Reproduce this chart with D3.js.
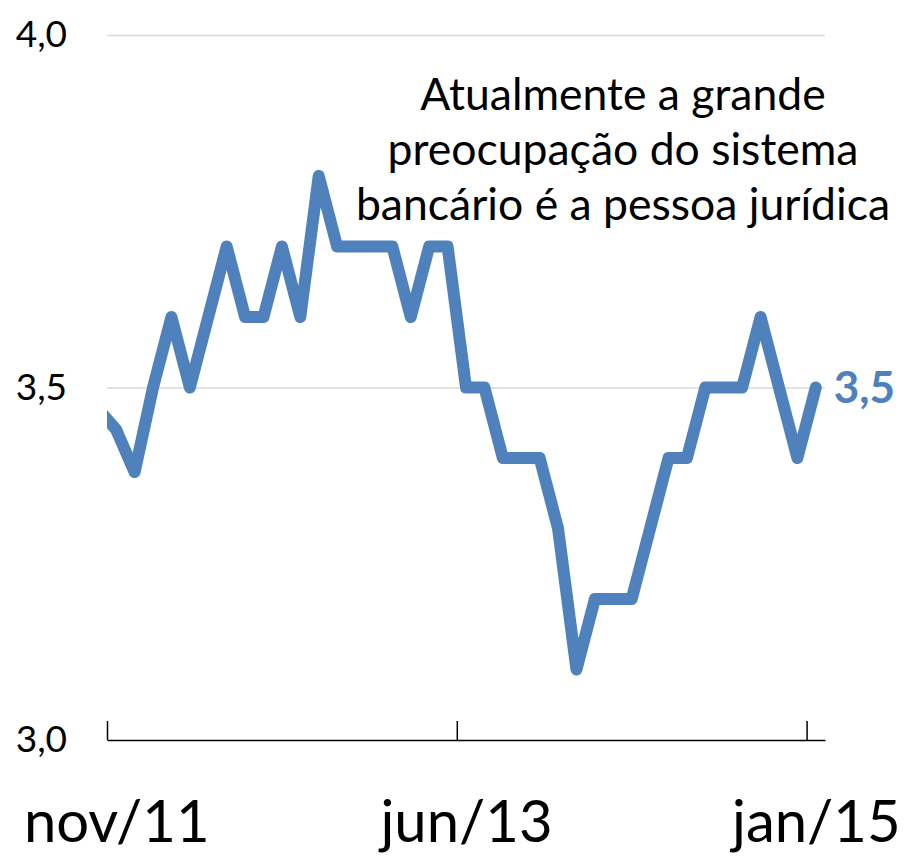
<!DOCTYPE html>
<html>
<head>
<meta charset="utf-8">
<script src="https://cdn.jsdelivr.net/npm/d3@7"></script>
<style>
  html, body { margin: 0; padding: 0; background: #fff; }
  text { font-family: Lato, "Open Sans", sans-serif; fill: #000; }
</style>
</head>
<body>
<div id="chart"></div>
<script>
// months shown on the chart (nov/11 .. jan/15)
const months = [
  "nov/11", "dez/11",
  "jan/12", "fev/12", "mar/12", "abr/12", "mai/12", "jun/12",
  "jul/12", "ago/12", "set/12", "out/12", "nov/12", "dez/12",
  "jan/13", "fev/13", "mar/13", "abr/13", "mai/13", "jun/13",
  "jul/13", "ago/13", "set/13", "out/13", "nov/13", "dez/13",
  "jan/14", "fev/14", "mar/14", "abr/14", "mai/14", "jun/14",
  "jul/14", "ago/14", "set/14", "out/14", "nov/14", "dez/14",
  "jan/15"
];

// indicator values, one per month
const values = [
  3.44, 3.38,
  3.5, 3.6, 3.5, 3.6, 3.7, 3.6,
  3.6, 3.7, 3.6, 3.8, 3.7, 3.7,
  3.7, 3.7, 3.6, 3.7, 3.7, 3.5,
  3.5, 3.4, 3.4, 3.4, 3.3, 3.1,
  3.2, 3.2, 3.2, 3.3, 3.4, 3.4,
  3.5, 3.5, 3.5, 3.6, 3.5, 3.4,
  3.5
];

// the month before nov/11 (only a sliver of it is visible, clipped at the axis)
const priorMonth = ["out/11"];
const priorValue = [3.47];

// axis labels
const xTickLabels = ["nov/11", "jun/13", "jan/15"];
const yTicks = [3.0, 3.5, 4.0];
const yGrid = [3.5, 4.0];

const note = [
  "Atualmente a grande",
  "preocupação do sistema",
  "bancário é a pessoa jurídica"
];

const MARGIN = { TOP: 35, BOTTOM: 116, LEFT: 107, RIGHT: 83 };
const WIDTH = 908 - MARGIN.LEFT - MARGIN.RIGHT;
const HEIGHT = 856 - MARGIN.TOP - MARGIN.BOTTOM;
const BLUE = "#4f81bd";

const ptBR = d3.formatLocale({ decimal: ",", thousands: ".", grouping: [3], currency: ["R$", ""] });
const fmt = ptBR.format(".1f");

const svg = d3.select("#chart")
  .append("svg")
  .attr("width", 908)
  .attr("height", 856)
  .append("g")
  .attr("transform", `translate(${MARGIN.LEFT},${MARGIN.TOP})`);

// month index scale, each month sits in the middle of its slot
const x = d3.scaleLinear()
  .domain([-0.5, months.length - 0.5])
  .range([0, WIDTH]);

const y = d3.scaleLinear()
  .domain([3, 4])
  .range([HEIGHT, 0]);

// gridlines
svg.append("g")
  .call(d3.axisLeft(y).tickValues(yGrid).tickSize(-WIDTH).tickFormat(""))
  .call(g => g.select(".domain").remove())
  .call(g => g.selectAll("line").attr("stroke", "#d9d9d9").attr("stroke-width", 1.5));

// y labels
svg.append("g")
  .call(d3.axisLeft(y).tickValues(yTicks).tickSize(0).tickPadding(40).tickFormat(fmt))
  .call(g => g.select(".domain").remove())
  .call(g => g.selectAll("text")
    .attr("font-size", 37)
    .attr("font-family", "Lato, sans-serif")
    .attr("fill", "#000"));

// x axis line with tick marks between months
const tickIdx = xTickLabels.map(l => months.indexOf(l));
svg.append("g")
  .attr("transform", `translate(0,${HEIGHT})`)
  .call(d3.axisBottom(x).tickValues(tickIdx.map(i => i - 0.5)).tickSize(-19).tickSizeOuter(0).tickFormat(""))
  .call(g => g.selectAll("path, line").attr("stroke", "#000").attr("stroke-width", 1.5));

// x labels centered on their month
svg.append("g")
  .attr("transform", `translate(0,${HEIGHT})`)
  .call(d3.axisBottom(x).tickValues(tickIdx).tickSize(0).tickPadding(61).tickFormat(i => months[i]))
  .call(g => g.select(".domain").remove())
  .call(g => g.selectAll("text")
    .attr("font-size", 58)
    .attr("font-family", "Lato, sans-serif")
    .attr("fill", "#000"));

// line, clipped to the plot area
svg.append("clipPath")
  .attr("id", "plot-clip")
  .append("rect")
  .attr("x", 0)
  .attr("y", -MARGIN.TOP)
  .attr("width", WIDTH + MARGIN.RIGHT)
  .attr("height", 856);

const series = priorValue.map((v, i) => ({ i: i - priorValue.length, v }))
  .concat(values.map((v, i) => ({ i, v })));

const line = d3.line()
  .x(d => x(d.i))
  .y(d => y(d.v));

svg.append("path")
  .datum(series)
  .attr("clip-path", "url(#plot-clip)")
  .attr("d", line)
  .attr("fill", "none")
  .attr("stroke", BLUE)
  .attr("stroke-width", 12)
  .attr("stroke-linejoin", "round")
  .attr("stroke-linecap", "round");

// last value label
const last = values.length - 1;
svg.append("text")
  .attr("x", x(last) + 18)
  .attr("y", y(values[last]))
  .attr("dy", "0.35em")
  .attr("font-size", 44)
  .attr("font-weight", "bold")
  .style("fill", BLUE)
  .text(fmt(values[last]));

// annotation
svg.append("text")
  .attr("x", 623 - MARGIN.LEFT)
  .attr("y", 110 - MARGIN.TOP)
  .attr("text-anchor", "middle")
  .attr("font-size", 44.5)
  .selectAll("tspan")
  .data(note)
  .join("tspan")
  .attr("x", 623 - MARGIN.LEFT)
  .attr("dy", (d, i) => i ? 55 : 0)
  .text(d => d);
</script>
</body>
</html>
